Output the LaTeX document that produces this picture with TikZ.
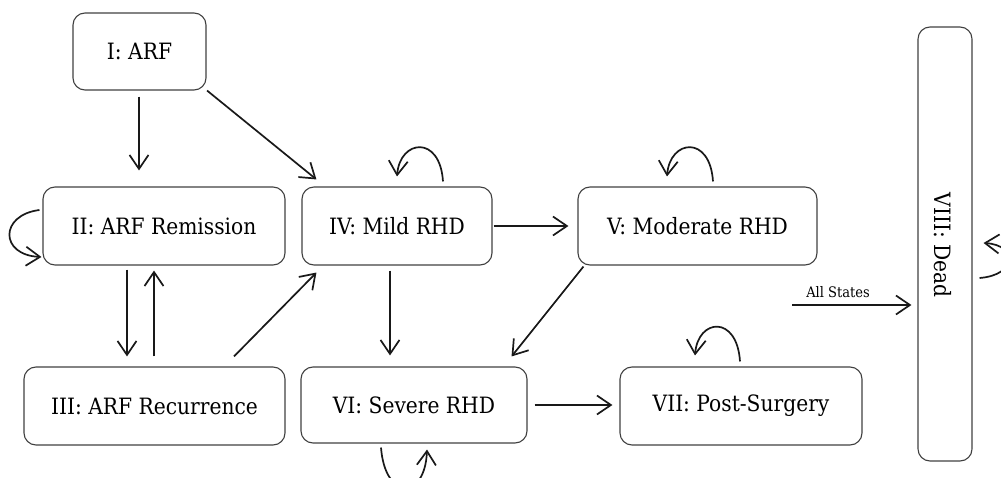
\documentclass[tikz,border=0pt]{standalone}
\usepackage{fontspec}
\setmainfont{DejaVu Serif Condensed}
\usetikzlibrary{arrows.meta,calc}

\tikzset{
  state/.style={draw=black!75, line width=1.1pt, rounded corners=12pt,
    inner sep=0pt, align=center, text=black,
    font=\fontsize{22.5}{26}\selectfont},
  arr/.style={draw=black!90, line width=1.7pt,
    -{Straight Barb[length=14pt,width=19pt,line width=1.7pt]}},
  small/.style={font=\fontsize{14.5}{17}\selectfont, inner sep=0pt, text=black},
}

\begin{document}
\begin{tikzpicture}[x=1pt, y=-1pt]
  \useasboundingbox (0,0) rectangle (1001,478);
  \clip (0,0) rectangle (1001,478);

  % states
  \node[state, minimum width=133pt, minimum height=77pt] (I)    at (139.5,51.5) {I: ARF};
  \node[state, minimum width=242pt, minimum height=78pt] (II)   at (164,226)   {II: ARF Remission};
  \node[state, minimum width=261pt, minimum height=78pt] (III)  at (154.5,406) {III: ARF Recurrence};
  \node[state, minimum width=190pt, minimum height=78pt] (IV)   at (397,226)   {IV: Mild RHD};
  \node[state, minimum width=239pt, minimum height=78pt] (V)    at (697.5,226) {V: Moderate RHD};
  \node[state, minimum width=226pt, minimum height=76pt] (VI)   at (414,405)   {VI: Severe RHD};
  \node[state, minimum width=242pt, minimum height=78pt] (VII)  at (741,406)   {VII: Post-Surgery};
  \node[state, minimum width=54pt,  minimum height=434pt] (VIII) at (945,244) {};
  \node[state, draw=none, rotate=-90] (deadtext) at (943,245) {VIII: Dead};

  % transitions
  \draw[arr] ([xshift=-0.5pt,yshift=-6pt]I.south) -- ([xshift=-0.5pt,yshift=16pt]I.south |- II.north);
  \draw[arr] ([xshift=0.5pt]I.south east) -- ([xshift=15pt,yshift=7pt]IV.north west);
  \draw[arr] ([xshift=-37pt,yshift=-4pt]II.south) -- ([xshift=-27.5pt,yshift=10pt]III.north);
  \draw[arr] ([xshift=-0.5pt,yshift=10pt]III.north) -- ([xshift=-10pt,yshift=-5pt]II.south);
  \draw[arr] ([xshift=79.5pt,yshift=10pt]III.north) -- ([xshift=15pt,yshift=-7pt]IV.south west);
  \draw[arr] ([xshift=1pt]IV.east) -- ([xshift=-9pt]V.west);
  \draw[arr] ([xshift=-7pt,yshift=-5pt]IV.south) -- ([xshift=-24pt,yshift=11pt]VI.north);
  \draw[arr] ([xshift=6pt,yshift=-1pt]V.south west) -- ([xshift=-16pt,yshift=10pt]VI.north east);
  \draw[arr] ([xshift=7pt]VI.east) -- ([xshift=-7pt,yshift=1pt]VII.west);

  % transitions into the absorbing state
  \coordinate (allfrom) at (792,305);
  \draw[arr] (allfrom) -- ([xshift=-6pt,yshift=-61pt]VIII.west);
  \node[small] (alllabel) at (838,292) {All States};

  % self-transitions
  \draw[arr] ([xshift=-3pt,yshift=16pt]II.west)
     .. controls +(-40,5) and +(-42,-2) .. ([xshift=-1pt,yshift=-31pt]II.west);
  \draw[arr] ([xshift=46pt,yshift=5pt]IV.north)
     .. controls +(-3,-47) and +(3,-37) .. ([yshift=10pt]IV.north);
  \draw[arr] ([xshift=15.5pt,yshift=5pt]V.north)
     .. controls +(-3,-47) and +(3,-37) .. ([xshift=-30.5pt,yshift=10pt]V.north);
  \draw[arr] ([xshift=-1pt,yshift=5pt]VII.north)
     .. controls +(-3,-47) and +(3,-37) .. ([xshift=-46pt,yshift=11pt]VII.north);
  \draw[arr] ([xshift=-33pt,yshift=-4pt]VI.south)
     .. controls +(4,53) and +(-2,51) .. ([xshift=13pt,yshift=-6pt]VI.south);
  \draw[arr] ([xshift=7pt,yshift=-34pt]VIII.east)
     .. controls +(38,-3) and +(34,2) .. ([xshift=11pt,yshift=1pt]VIII.east);
\end{tikzpicture}
\end{document}
